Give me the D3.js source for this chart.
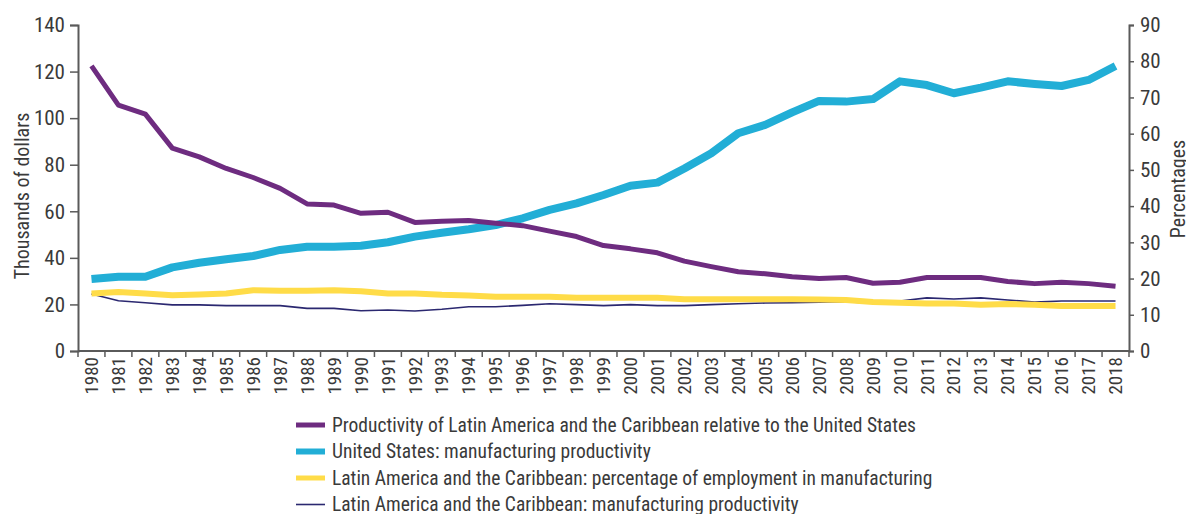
<!DOCTYPE html>
<html>
<head>
<meta charset="utf-8">
<script src="https://cdn.jsdelivr.net/npm/d3@7"></script>
<style>
  html, body { margin: 0; padding: 0; background: #fff; }
  svg text { font-family: "Liberation Sans Narrow", "Arial Narrow", "Roboto Condensed", "Liberation Sans", sans-serif; fill: #3a3a3a; }
</style>
</head>
<body>
<svg id="chart" width="1186" height="514"></svg>
<script>
const years = d3.range(1980, 2019).map(String);

// Productivity of LAC relative to US (percent, right axis)
const relativeProductivity = [78.7, 67.9, 65.4, 56.0, 53.6, 50.4, 47.9, 44.9, 40.6, 40.3,
  38.0, 38.3, 35.5, 35.8, 36.0, 35.3, 34.6, 33.1, 31.6, 29.1,
  28.2, 27.1, 24.8, 23.3, 21.9, 21.3, 20.5, 20.0, 20.3, 18.7,
  19.0, 20.3, 20.3, 20.3, 19.2, 18.6, 19.0, 18.6, 17.9];

// US manufacturing productivity (thousands of dollars, left axis)
const usProductivity = [30.9, 31.9, 31.9, 35.9, 37.9, 39.4, 40.8, 43.4, 44.8, 44.8,
  45.2, 46.7, 49.1, 50.8, 52.3, 54.1, 57.0, 60.6, 63.4, 67.0,
  71.0, 72.3, 78.4, 84.9, 93.5, 97.1, 102.5, 107.4, 107.1, 108.2,
  115.8, 114.2, 110.7, 113.1, 115.8, 114.7, 113.8, 116.4, 122.4];

// LAC share of employment in manufacturing (percent, right axis)
const lacEmploymentShare = [15.9, 16.3, 15.9, 15.4, 15.6, 15.9, 16.8, 16.6, 16.6, 16.8,
  16.5, 15.9, 15.9, 15.5, 15.3, 15.0, 15.0, 15.0, 14.7, 14.7,
  14.7, 14.7, 14.3, 14.3, 14.3, 14.3, 14.3, 14.2, 14.1, 13.5,
  13.3, 13.1, 13.1, 12.8, 13.0, 12.8, 12.4, 12.4, 12.4];

// LAC manufacturing productivity (thousands of dollars, left axis)
const lacProductivity = [24.5, 21.6, 20.7, 19.8, 19.8, 19.5, 19.5, 19.5, 18.3, 18.3,
  17.3, 17.6, 17.2, 17.9, 19.0, 19.0, 19.6, 20.3, 19.9, 19.5,
  19.9, 19.5, 19.5, 19.9, 20.3, 20.6, 20.7, 21.0, 21.2, 20.5,
  21.5, 22.8, 22.3, 22.8, 21.9, 21.0, 21.5, 21.5, 21.5];

const leftTicks = [0, 20, 40, 60, 80, 100, 120, 140];
const rightTicks = [0, 10, 20, 30, 40, 50, 60, 70, 80, 90];

const legendLabels = [
  "Productivity of Latin America and the Caribbean relative to the United States",
  "United States: manufacturing productivity",
  "Latin America and the Caribbean: percentage of employment in manufacturing",
  "Latin America and the Caribbean: manufacturing productivity"
];

const colors = { purple: "#6e2c80", blue: "#22aed6", yellow: "#ffdc48", navy: "#2b2870" };

const svg = d3.select("#chart");
const mLeft = 78, mRight = 1129, mTop = 25, mBottom = 351;

const x = d3.scaleBand().domain(years).range([mLeft, mRight]).padding(0);
const yL = d3.scaleLinear().domain([0, 140]).range([mBottom, mTop]);
const yR = d3.scaleLinear().domain([0, 90]).range([mBottom, mTop]);
const axisColor = "#5a5a5a";

const gL = svg.append("g").attr("transform", `translate(${mLeft},0)`)
  .call(d3.axisLeft(yL).tickValues(leftTicks).tickSize(8).tickPadding(5));
const gR = svg.append("g").attr("transform", `translate(${mRight},0)`)
  .call(d3.axisRight(yR).tickValues(rightTicks).tickSize(5).tickPadding(6));
const gB = svg.append("g").attr("transform", `translate(0,${mBottom})`)
  .call(d3.axisBottom(x).tickSize(0).tickPadding(0));

[gL, gR].forEach(g => {
  g.select(".domain").attr("stroke", axisColor).attr("stroke-width", 2);
  g.selectAll(".tick line").attr("stroke", axisColor).attr("stroke-width", 1.5);
  g.selectAll(".tick text").attr("font-size", 21).attr("fill", "#3a3a3a");
});
gB.select(".domain").attr("stroke", axisColor).attr("stroke-width", 2).attr("d", `M${mLeft},0H${mRight}`);
gB.selectAll(".tick text")
  .attr("font-size", 19)
  .attr("transform", "rotate(-90)")
  .attr("text-anchor", "end")
  .attr("x", -6)
  .attr("y", 0)
  .attr("dy", "0.35em");
svg.append("g").selectAll("line")
  .data(years.concat(["end"]))
  .join("line")
  .attr("x1", (d, i) => i < years.length ? x(d) : mRight)
  .attr("x2", (d, i) => i < years.length ? x(d) : mRight)
  .attr("y1", mBottom).attr("y2", mBottom + 6)
  .attr("stroke", axisColor).attr("stroke-width", 1.5);

svg.append("text")
  .attr("transform", `translate(29,${(mTop + mBottom) / 2 + 8}) rotate(-90)`)
  .attr("text-anchor", "middle")
  .attr("font-size", 20)
  .text("Thousands of dollars");
svg.append("text")
  .attr("transform", `translate(1185,${(mTop + mBottom) / 2 + 1}) rotate(-90)`)
  .attr("text-anchor", "middle")
  .attr("font-size", 20)
  .text("Percentages");

const cx = d => x(d) + x.bandwidth() / 2;
const lineL = d3.line().x((d, i) => cx(years[i])).y(d => yL(d));
const lineR = d3.line().x((d, i) => cx(years[i])).y(d => yR(d));

const series = [
  { data: lacProductivity, line: lineL, color: colors.navy, w: 1.6 },
  { data: lacEmploymentShare, line: lineR, color: colors.yellow, w: 6 },
  { data: usProductivity, line: lineL, color: colors.blue, w: 8 },
  { data: relativeProductivity, line: lineR, color: colors.purple, w: 5 }
];
series.forEach(s => {
  svg.append("path")
    .attr("d", s.line(s.data))
    .attr("fill", "none")
    .attr("stroke", s.color)
    .attr("stroke-width", s.w)
    .attr("stroke-linejoin", "round");
});

const legendItems = [
  { label: legendLabels[0], color: colors.purple, w: 5 },
  { label: legendLabels[1], color: colors.blue, w: 6 },
  { label: legendLabels[2], color: colors.yellow, w: 5 },
  { label: legendLabels[3], color: colors.navy, w: 1.6 }
];
const lg = svg.append("g");
legendItems.forEach((it, i) => {
  const yy = 425 + i * 26.5;
  lg.append("line")
    .attr("x1", 296).attr("x2", 325)
    .attr("y1", yy).attr("y2", yy)
    .attr("stroke", it.color).attr("stroke-width", it.w);
  lg.append("text")
    .attr("x", 332).attr("y", yy)
    .attr("dy", "0.35em")
    .attr("font-size", 19.5)
    .text(it.label);
});
</script>
</body>
</html>
